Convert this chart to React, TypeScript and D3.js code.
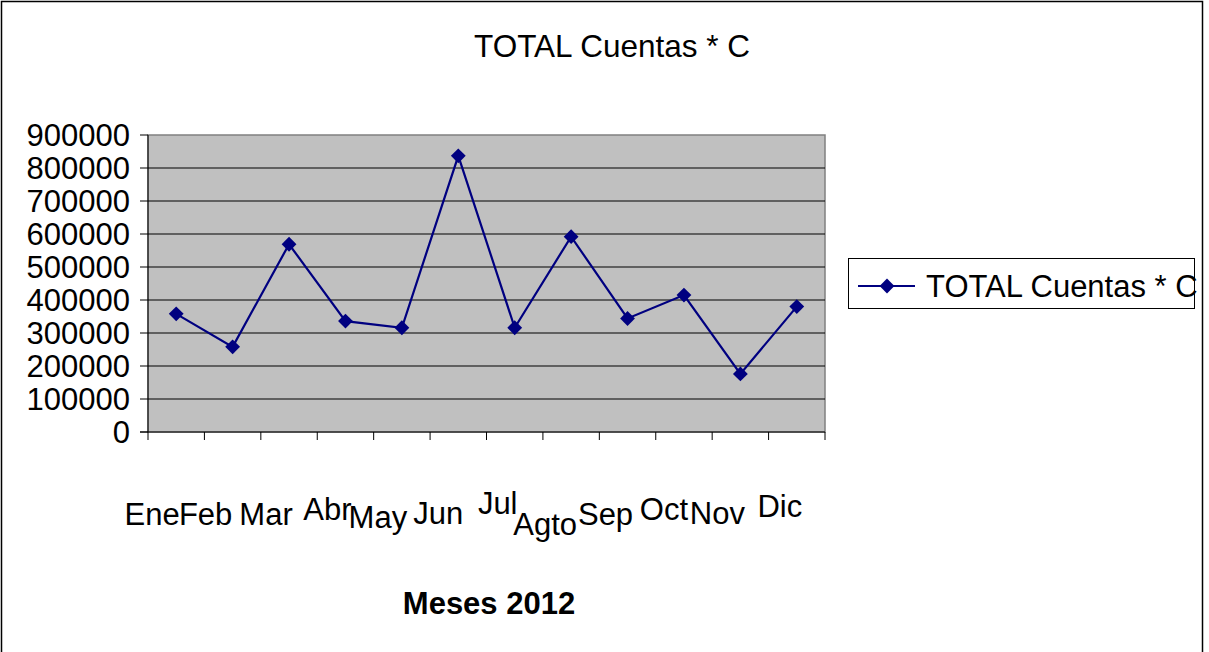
import React from "react";
import * as d3 from "d3";

const months = ["Ene", "Feb", "Mar", "Abr", "May", "Jun", "Jul", "Agto", "Sep", "Oct", "Nov", "Dic"];
const totals = [358000, 258000, 569000, 336000, 316000, 837000, 316000, 592000, 344000, 415000, 176000, 380000];
const yTicks = [0, 100000, 200000, 300000, 400000, 500000, 600000, 700000, 800000, 900000];
const seriesName = "TOTAL Cuentas * C";
const chartTitle = "TOTAL Cuentas * C";
const xTitle = "Meses 2012";

// label layout (staggered category labels as in the original rendering)
const labelDx = [-24, -27, -23, -18, -24, -20, -17, -26, -22, -20, -23, -17];
const labelBaseline = [525, 525, 525, 520, 528, 524, 514, 535, 525, 520, 524, 517];

const W = 1209;
const H = 652;
const plot = { left: 148, right: 825, top: 135, bottom: 432 };
const FONT = "Arial, 'Liberation Sans', Helvetica, sans-serif";
const NAVY = "#000080";

export default function App() {
  const x = d3.scaleBand<string>().domain(months).range([plot.left, plot.right]).padding(0);
  const y = d3.scaleLinear().domain([0, 900000]).range([plot.bottom, plot.top]);
  const cx = (m: string) => (x(m) as number) + x.bandwidth() / 2;

  const line = d3
    .line<number>()
    .x((_, i) => cx(months[i]))
    .y((d) => y(d));

  const diamond = d3.symbol().type(d3.symbolDiamond2).size(140)();

  const xTickPositions = months.map((m) => x(m) as number).concat([plot.right]);

  return (
    <svg
      width={W}
      height={H}
      style={{ position: "absolute", left: 0, top: 0, background: "#fff" }}
      fontFamily={FONT}
    >
      {/* outer chart frame */}
      <rect x={1.5} y={1.5} width={1201} height={H + 10} fill="#fff" stroke="#000" strokeWidth={1.5} />

      {/* title */}
      <text x={612} y={57} fontSize={31.5} textAnchor="middle" fill="#000">
        {chartTitle}
      </text>

      {/* plot area */}
      <rect
        x={plot.left}
        y={plot.top}
        width={plot.right - plot.left}
        height={plot.bottom - plot.top}
        fill="#c0c0c0"
        stroke="#808080"
        strokeWidth={1.5}
      />
      {yTicks
        .filter((t) => t > 0 && t < 900000)
        .map((t) => (
          <line key={t} x1={plot.left} x2={plot.right} y1={y(t)} y2={y(t)} stroke="#000" strokeWidth={1} />
        ))}

      {/* y axis */}
      <line x1={plot.left} x2={plot.left} y1={plot.top} y2={plot.bottom} stroke="#000" strokeWidth={1} />
      {yTicks.map((t) => (
        <g key={t}>
          <line x1={plot.left - 8} x2={plot.left} y1={y(t)} y2={y(t)} stroke="#000" strokeWidth={1} />
          <text x={130} y={y(t) + 11} fontSize={31} textAnchor="end" fill="#000">
            {t}
          </text>
        </g>
      ))}

      {/* x axis */}
      <line x1={plot.left - 8} x2={plot.right} y1={plot.bottom} y2={plot.bottom} stroke="#000" strokeWidth={1} />
      {xTickPositions.map((p, i) => (
        <line key={i} x1={p} x2={p} y1={plot.bottom} y2={plot.bottom + 8} stroke="#000" strokeWidth={1} />
      ))}
      {months.map((m, i) => (
        <text key={m} x={cx(m) + labelDx[i]} y={labelBaseline[i]} fontSize={31} textAnchor="middle" fill="#000">
          {m}
        </text>
      ))}

      {/* x axis title */}
      <text x={489} y={614} fontSize={31} fontWeight="bold" textAnchor="middle" fill="#000">
        {xTitle}
      </text>

      {/* series */}
      <path d={line(totals) || ""} fill="none" stroke={NAVY} strokeWidth={2.2} />
      {totals.map((v, i) => (
        <path key={i} d={diamond || ""} transform={`translate(${cx(months[i])},${y(v)})`} fill={NAVY} />
      ))}

      {/* legend */}
      <rect x={848.5} y={258.5} width={346} height={50} fill="#fff" stroke="#000" strokeWidth={1} />
      <line x1={858} x2={915} y1={286} y2={286} stroke={NAVY} strokeWidth={2.2} />
      <path d={diamond || ""} transform="translate(887,286)" fill={NAVY} />
      <text x={926} y={297} fontSize={31} fill="#000">
        {seriesName}
      </text>
    </svg>
  );
}
